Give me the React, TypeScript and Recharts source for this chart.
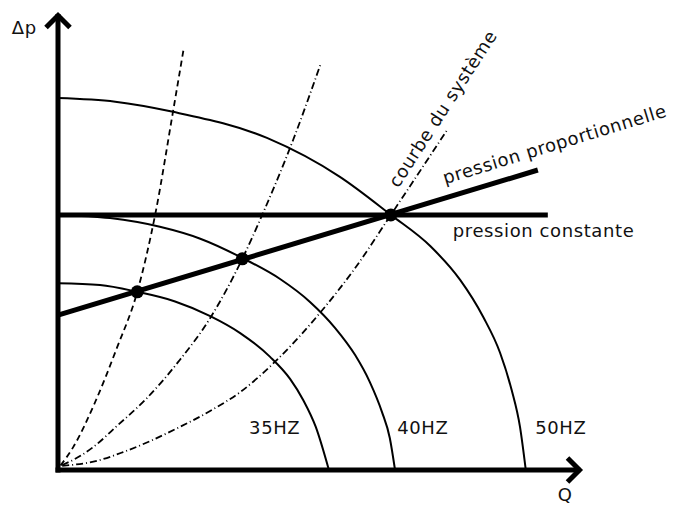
import { ComposedChart, Line, Scatter, XAxis, YAxis, ReferenceLine, ReferenceDot } from 'recharts'

// pump curves (Q, Δp)
const hz50Q = [0, 10.9, 21.9, 39.8, 53.7, 63.4, 70.9, 76.6, 81.0, 84.2, 86.4, 88.0, 89.1]
const hz50Dp = [81.2, 80.4, 78.2, 72.5, 64.0, 55.7, 48.9, 41.5, 33.4, 25.6, 17.5, 9.4, 0]
const hz40Q = [0, 9.9, 19.4, 27.1, 35.1, 42.3, 48.0, 52.8, 56.6, 59.4, 61.7, 63.2, 64.2]
const hz40Dp = [55.7, 55.0, 53.1, 50.5, 46.3, 41.7, 36.7, 31.0, 25.1, 19.2, 12.7, 7.0, 0]
const hz35Q = [0, 8.0, 15.1, 22.3, 29.0, 34.7, 40.4, 44.2, 46.7, 49.1, 51.6]
const hz35Dp = [40.8, 40.4, 38.9, 36.8, 33.6, 29.9, 24.7, 19.9, 15.3, 9.4, 0]

// system curves
const sysAQ = [0.5, 2.9, 7.1, 11.2, 15.1, 18.5, 21.9, 24.0]
const sysADp = [1.0, 5.0, 14.9, 26.6, 38.9, 55.7, 78.2, 92.4]
const sysBQ = [0.8, 2.9, 6.7, 11.4, 16.6, 22.9, 29.0, 35.1, 38.9, 44.8, 50.1]
const sysBDp = [1.1, 2.2, 5.0, 9.8, 15.3, 23.6, 33.2, 46.1, 55.7, 72.1, 88.9]
const sysCQ = [0.8, 7.4, 12.4, 23.2, 29.3, 34.7, 41.3, 49.9, 56.6, 63.4, 74.1]
const sysCDp = [0.9, 2.0, 3.9, 9.4, 13.1, 17.0, 23.6, 34.3, 44.1, 55.7, 74.2]

// control lines
const constQ = [0, 93.3]
const constDp = [55.7, 55.7]
const propQ = [0, 91.4]
const propDp = [33.8, 65.5]

// operating points
const opQ = [15.1, 35.1, 63.4]
const opDp = [38.9, 46.1, 55.7]

const toPts = (q: number[], dp: number[]) => q.map((x, i) => ({ x, y: dp[i] }))

const FONT = '"DejaVu Sans", sans-serif'

const Arrow = ({ cx, cy, dir }: { cx: number; cy: number; dir: 'x' | 'y' }) => {
    const s = 12
    if (dir === 'x') {
        const tx = cx - 3.5
        return <polyline points={`${tx - s},${cy - s} ${tx},${cy} ${tx - s},${cy + s}`} fill="none" stroke="#000" strokeWidth={5} />
    }
    const ty = cy + 3.5
    return <polyline points={`${cx - s},${ty + s} ${cx},${ty} ${cx + s},${ty + s}`} fill="none" stroke="#000" strokeWidth={5} />
}

const Txt = ({ cx, cy, text, angle = 0, anchor = 'start' }: any) => (
    <text
        x={cx}
        y={cy}
        transform={angle ? `rotate(${angle} ${cx} ${cy})` : undefined}
        textAnchor={anchor}
        fontFamily={FONT}
        fontSize={18}
        letterSpacing={0.6}
        fill="#111"
    >
        {text}
    </text>
)

export default function App() {
    return (
        <div style={{ position: 'absolute', left: 0, top: 0, background: '#fff' }}>
            <ComposedChart width={677} height={506} margin={{ top: 12, right: 94, bottom: 36, left: 58 }}>
                <XAxis type="number" dataKey="x" domain={[0, 100]} hide />
                <YAxis type="number" dataKey="y" domain={[0, 100]} hide />

                <Line data={toPts(hz50Q, hz50Dp)} dataKey="y" type="monotone" stroke="#000" strokeWidth={2} dot={false} isAnimationActive={false} />
                <Line data={toPts(hz40Q, hz40Dp)} dataKey="y" type="monotone" stroke="#000" strokeWidth={2} dot={false} isAnimationActive={false} />
                <Line data={toPts(hz35Q, hz35Dp)} dataKey="y" type="monotone" stroke="#000" strokeWidth={2} dot={false} isAnimationActive={false} />

                <Line data={toPts(sysAQ, sysADp)} dataKey="y" type="monotone" stroke="#000" strokeWidth={1.8} strokeDasharray="6 4" dot={false} isAnimationActive={false} />
                <Line data={toPts(sysBQ, sysBDp)} dataKey="y" type="monotone" stroke="#000" strokeWidth={1.8} strokeDasharray="7 3 1 3" dot={false} isAnimationActive={false} />
                <Line data={toPts(sysCQ, sysCDp)} dataKey="y" type="monotone" stroke="#000" strokeWidth={1.8} strokeDasharray="7 3 1 3" dot={false} isAnimationActive={false} />

                <Line data={toPts(constQ, constDp)} dataKey="y" type="linear" stroke="#000" strokeWidth={5} dot={false} isAnimationActive={false} />
                <Line data={toPts(propQ, propDp)} dataKey="y" type="linear" stroke="#000" strokeWidth={5} dot={false} isAnimationActive={false} />

                <Scatter
                    data={toPts(opQ, opDp)}
                    dataKey="y"
                    fill="#000"
                    isAnimationActive={false}
                    shape={(p: any) => <circle cx={p.cx} cy={p.cy} r={6.5} fill="#000" />}
                />

                {/* axes */}
                <ReferenceLine segment={[{ x: 0, y: 0 }, { x: 99, y: 0 }]} stroke="#000" strokeWidth={5} strokeLinecap="square" ifOverflow="visible" />
                <ReferenceLine segment={[{ x: 0, y: 0 }, { x: 0, y: 99 }]} stroke="#000" strokeWidth={5} strokeLinecap="square" ifOverflow="visible" />
                <ReferenceDot x={100} y={0} r={0} ifOverflow="visible" shape={(p: any) => <Arrow cx={p.cx} cy={p.cy} dir="x" />} />
                <ReferenceDot x={0} y={100} r={0} ifOverflow="visible" shape={(p: any) => <Arrow cx={p.cx} cy={p.cy} dir="y" />} />

                {/* labels */}
                <ReferenceDot x={-8.8} y={95.3} r={0} ifOverflow="visible" shape={(p: any) => <Txt cx={p.cx} cy={p.cy} text="Δp" />} />
                <ReferenceDot x={95.2} y={-6.8} r={0} ifOverflow="visible" shape={(p: any) => <Txt cx={p.cx} cy={p.cy} text="Q" />} />
                <ReferenceDot x={36.4} y={7.9} r={0} ifOverflow="visible" shape={(p: any) => <Txt cx={p.cx} cy={p.cy} text="35HZ" />} />
                <ReferenceDot x={64.6} y={7.9} r={0} ifOverflow="visible" shape={(p: any) => <Txt cx={p.cx} cy={p.cy} text="40HZ" />} />
                <ReferenceDot x={90.9} y={7.9} r={0} ifOverflow="visible" shape={(p: any) => <Txt cx={p.cx} cy={p.cy} text="50HZ" />} />
                <ReferenceDot x={75.2} y={50.9} r={0} ifOverflow="visible" shape={(p: any) => <Txt cx={p.cx} cy={p.cy} text="pression constante" />} />
                <ReferenceDot x={73.7} y={62.4} r={0} ifOverflow="visible" shape={(p: any) => <Txt cx={p.cx} cy={p.cy} text="pression proportionnelle" angle={-17} />} />
                <ReferenceDot x={64.8} y={61.4} r={0} ifOverflow="visible" shape={(p: any) => <Txt cx={p.cx} cy={p.cy} text="courbe du système" angle={-57} />} />
            </ComposedChart>
        </div>
    )
}
